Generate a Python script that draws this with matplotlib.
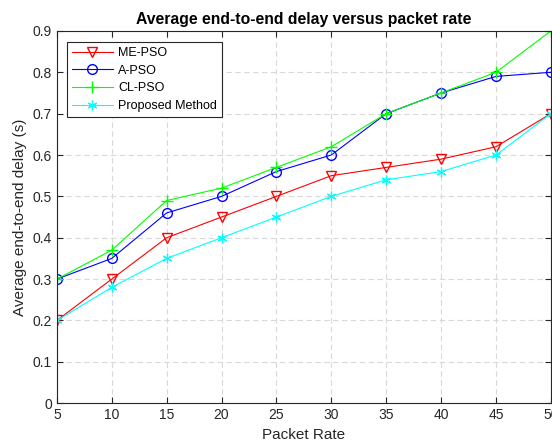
import matplotlib
matplotlib.use("Agg")
import matplotlib.pyplot as plt

plt.rcParams['font.family'] = ['Liberation Sans', 'DejaVu Sans']

packet_rate = [5, 10, 15, 20, 25, 30, 35, 40, 45, 50]
me_pso = [0.2, 0.3, 0.4, 0.45, 0.5, 0.55, 0.57, 0.59, 0.62, 0.7]
a_pso = [0.3, 0.35, 0.46, 0.5, 0.56, 0.6, 0.7, 0.75, 0.79, 0.8]
cl_pso = [0.3, 0.37, 0.49, 0.52, 0.57, 0.62, 0.7, 0.75, 0.8, 0.9]
proposed = [0.2, 0.28, 0.35, 0.4, 0.45, 0.5, 0.54, 0.56, 0.6, 0.7]

fig = plt.figure(figsize=(5.52, 4.48), dpi=100)
ax = fig.add_axes([0.103, 0.100, 0.895, 0.831])

ax.plot(packet_rate, me_pso, color='#ff0000', marker='v', mfc='none', ms=7, lw=0.8, label='ME-PSO')
ax.plot(packet_rate, a_pso, color='#0000ff', marker='o', mfc='none', ms=7, lw=0.8, label='A-PSO')
ax.plot(packet_rate, cl_pso, color='#00ff00', marker='+', ms=9, lw=0.8, label='CL-PSO')
ax.plot(packet_rate, proposed, color='#00ffff', marker=(6, 2, 0), ms=7, mew=0.9, lw=0.8, label='Proposed Method')

ax.set_xlim(5, 50)
ax.set_ylim(0, 0.9)
ax.set_xticks(packet_rate)
ax.set_yticks([0, 0.1, 0.2, 0.3, 0.4, 0.5, 0.6, 0.7, 0.8, 0.9])
ax.set_yticklabels(['0', '0.1', '0.2', '0.3', '0.4', '0.5', '0.6', '0.7', '0.8', '0.9'])
ax.grid(True, linestyle=(0, (5, 3)), color='#d9d9d9', lw=0.8)
ax.tick_params(direction='in', colors='#262626', labelsize=10, length=4, top=True, right=True)
for s in ax.spines.values():
    s.set_color('#262626')
    s.set_linewidth(0.8)

ax.set_xlabel('Packet Rate', fontsize=11, color='#262626')
ax.set_ylabel('Average end-to-end delay (s)', fontsize=11, color='#262626')
ax.set_title('Average end-to-end delay versus packet rate', fontsize=11.3, fontweight='bold', pad=5)

leg = ax.legend(loc='upper left', bbox_to_anchor=(0.02, 0.97), borderaxespad=0, fontsize=9,
                fancybox=False, edgecolor='#262626', framealpha=1, handlelength=3.3,
                handletextpad=0.4, borderpad=0.4, labelspacing=0.45)
leg.get_frame().set_linewidth(0.8)

fig.savefig('out.png', dpi=100)
